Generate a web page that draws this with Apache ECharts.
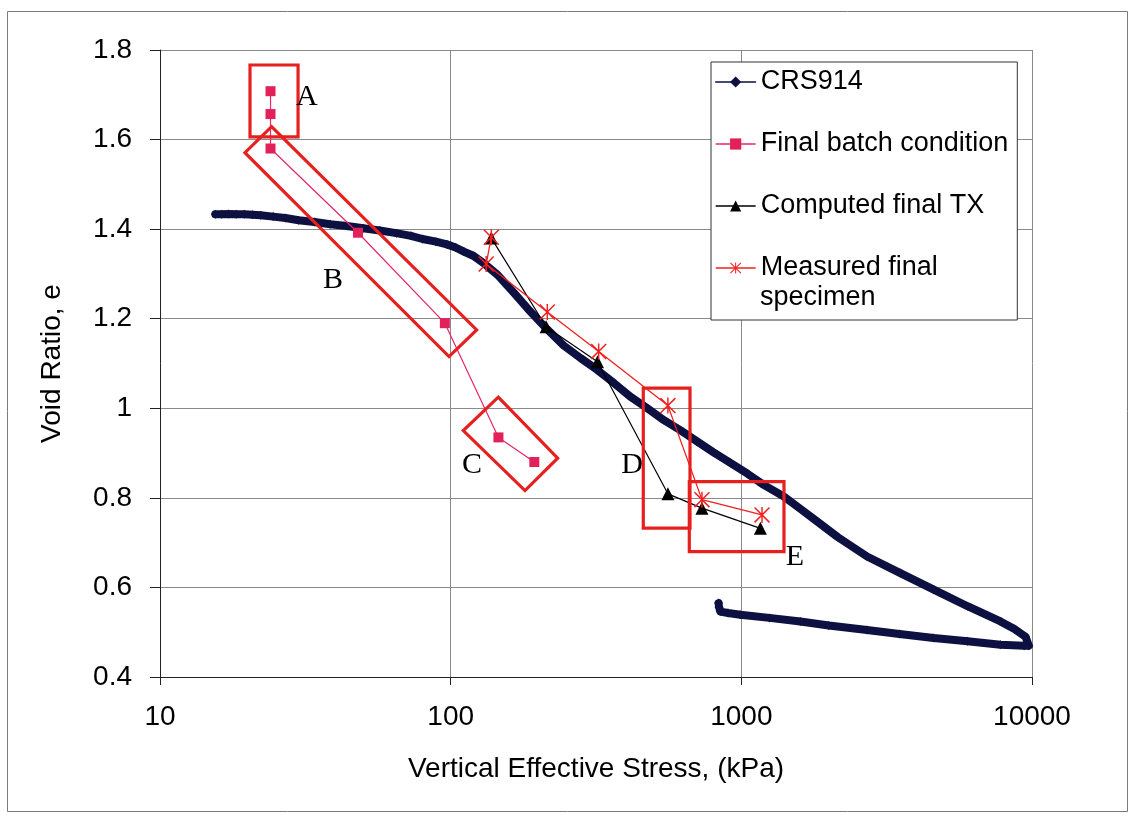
<!DOCTYPE html>
<html><head><meta charset="utf-8">
<script src="https://cdn.jsdelivr.net/npm/echarts@6/dist/echarts.min.js"></script>
<style>html,body{margin:0;padding:0;background:#fff}#c{width:1132px;height:817px}</style>
</head><body><div id="c"></div>
<script>
// ---- data ----
const crsStress = [15.5, 16.3, 17.2, 18.3, 19.5, 20.8, 22.2, 24.5, 27, 30, 34, 38.5, 44, 50, 57, 65, 73, 80, 89, 97, 104, 111, 120, 131, 145, 165, 188, 215, 245, 280, 319, 365, 415, 475, 540, 620, 704, 800, 917, 1050, 1194, 1400, 1555, 1800, 2150, 2708, 3524, 4592, 6000, 7790, 8700, 9497, 9750, 9400, 7790, 6000, 4592, 3500, 2708, 2000, 1596, 1250, 992, 900, 847, 838, 835];
const crsVoid   = [1.433, 1.433, 1.434, 1.433, 1.433, 1.432, 1.431, 1.428, 1.425, 1.420, 1.416, 1.411, 1.407, 1.402, 1.397, 1.391, 1.385, 1.378, 1.372, 1.366, 1.359, 1.350, 1.340, 1.322, 1.298, 1.258, 1.216, 1.176, 1.140, 1.112, 1.086, 1.056, 1.026, 1.000, 0.974, 0.950, 0.926, 0.902, 0.878, 0.854, 0.829, 0.803, 0.781, 0.750, 0.712, 0.669, 0.632, 0.595, 0.558, 0.524, 0.507, 0.490, 0.470, 0.470, 0.472, 0.480, 0.487, 0.496, 0.505, 0.515, 0.524, 0.532, 0.539, 0.543, 0.546, 0.556, 0.565];
const batchStress = [24, 24, 24, 48, 95.5, 146, 194];
const batchVoid   = [1.708, 1.657, 1.580, 1.392, 1.190, 0.935, 0.880];
const txStress = [138, 213, 320, 559, 732, 1163];
const txVoid   = [1.380, 1.182, 1.104, 0.809, 0.777, 0.732];
const measStress = [138, 132.5, 215, 323, 559, 732, 1178];
const measVoid   = [1.382, 1.322, 1.215, 1.127, 1.006, 0.796, 0.762];
const seriesNames = ['CRS914', 'Final batch condition', 'Computed final TX', 'Measured final specimen'];
// annotation boxes (corners in data units: stress, void ratio)
const boxA = [[20.4, 1.7665], [29.85, 1.7665], [29.85, 1.6058], [20.4, 1.6058]];
const boxB = [[24.2, 1.6288], [122.9, 1.175], [98.7, 1.1154], [19.6, 1.5708]];
const boxC = [[145.8, 1.0248], [233.4, 0.8886], [180.2, 0.8163], [110.5, 0.9502]];
const boxD = [[459.9, 1.0449], [665.9, 1.0449], [665.9, 0.7324], [459.9, 0.7324]];
const boxE = [[662.2, 0.8364], [1402, 0.8364], [1402, 0.6801], [662.2, 0.6801]];
const labelTexts = ['A', 'B', 'C', 'D', 'E'];
const labelPos = [[32.0, 1.695], [39.4, 1.2866], [118.4, 0.8737], [420.6, 0.8737], [1529, 0.6683]];

const zip = (a, b) => a.map((v, i) => [v, b[i]]);
const starPath = 'path://M9.1,0 L10.9,0 L10.9,20 L9.1,20 Z M0,1.3 L1.3,0 L20,18.7 L18.7,20 Z M18.7,0 L20,1.3 L1.3,20 L0,18.7 Z';
const SANS = '"Liberation Sans", Arial, sans-serif';
const SERIF = '"Liberation Serif", "Times New Roman", serif';

const chart = echarts.init(document.getElementById('c'), null, {renderer: 'canvas'});
chart.setOption({
  animation: false,
  backgroundColor: '#fff',
  grid: {left: 160, top: 50, width: 872, height: 627, containLabel: false},
  xAxis: {
    type: 'log', logBase: 10, min: 10, max: 10000,
    name: 'Vertical Effective Stress, (kPa)', nameLocation: 'middle', nameGap: 78,
    nameTextStyle: {fontFamily: SANS, fontSize: 28, color: '#000'},
    axisLine: {show: true, lineStyle: {color: '#222', width: 1}},
    axisTick: {show: true, inside: false, length: 8, lineStyle: {color: '#222'}},
    axisLabel: {margin: 26, fontFamily: SANS, fontSize: 28, color: '#000', formatter: v => String(Math.round(v))},
    splitLine: {show: true, lineStyle: {color: '#8a8a8a', width: 1}},
    minorTick: {show: false}
  },
  yAxis: {
    type: 'value', min: 0.4, max: 1.8, interval: 0.2,
    name: 'Void Ratio, e', nameLocation: 'middle', nameGap: 94,
    nameTextStyle: {fontFamily: SANS, fontSize: 28, color: '#000'},
    axisLine: {show: true, lineStyle: {color: '#222', width: 1}},
    axisTick: {show: true, inside: false, length: 10, lineStyle: {color: '#222'}},
    axisLabel: {margin: 28, fontFamily: SANS, fontSize: 28, color: '#000', formatter: v => String(Math.round(v * 10) / 10)},
    splitLine: {show: true, lineStyle: {color: '#8a8a8a', width: 1}}
  },
  legend: {
    orient: 'vertical', left: 711, top: 62, padding: [5, 9, 37, 4],
    itemGap: 32, itemWidth: 40, itemHeight: 14,
    backgroundColor: '#fff', borderColor: '#333', borderWidth: 1, borderRadius: 0,
    selectedMode: false,
    textStyle: {fontFamily: SANS, fontSize: 27, color: '#000', lineHeight: 30},
    lineStyle: {width: 1.3},
    data: seriesNames,
    formatter: n => (n === 'Measured final specimen' ? 'Measured final' : n)
  },
  series: [
    {
      name: seriesNames[0], type: 'line', data: zip(crsStress, crsVoid),
      symbol: 'diamond', symbolSize: 9, showAllSymbol: true,
      lineStyle: {color: '#0c1141', width: 8, join: 'round', cap: 'round'}, itemStyle: {color: '#0c1141'}, z: 2
    },
    {
      name: seriesNames[1], type: 'line', data: zip(batchStress, batchVoid),
      symbol: 'rect', symbolSize: 10,
      lineStyle: {color: '#e8246a', width: 1.2}, itemStyle: {color: '#e2215a'}, z: 3
    },
    {
      name: seriesNames[2], type: 'line', data: zip(txStress, txVoid),
      symbol: 'triangle', symbolSize: 13,
      lineStyle: {color: '#000', width: 1.2}, itemStyle: {color: '#000'}, z: 4
    },
    {
      name: seriesNames[3], type: 'line', data: zip(measStress, measVoid),
      symbol: starPath, symbolSize: 16,
      lineStyle: {color: '#f21f1f', width: 1.3}, itemStyle: {color: '#f21f1f'}, z: 5
    }
  ]
});

function toPx(p) { return chart.convertToPixel({gridIndex: 0}, p); }
const boxStyle = {fill: 'none', stroke: '#e6201e', lineWidth: 3.2};
const graphics = [];
[boxA, boxB, boxC, boxD, boxE].forEach(b => {
  graphics.push({type: 'polygon', shape: {points: b.map(toPx)}, style: boxStyle, z: 100});
});
labelTexts.forEach((t, i) => {
  const p = toPx(labelPos[i]);
  graphics.push({type: 'text', x: p[0], y: p[1], z: 101,
    style: {text: t, fontFamily: SERIF, fontSize: 30, fill: '#000', align: 'center', verticalAlign: 'middle'}});
});
graphics.push({type: 'text', x: 760, y: 298, z: 101,
  style: {text: 'specimen', fontFamily: SANS, fontSize: 27, fill: '#000', align: 'left', verticalAlign: 'middle'}});
graphics.push({type: 'rect', shape: {x: 7.5, y: 11.5, width: 1120, height: 800}, z: -1,
  style: {fill: 'none', stroke: '#7a7a7a', lineWidth: 1}});
chart.setOption({graphic: graphics});
</script>
</body></html>
